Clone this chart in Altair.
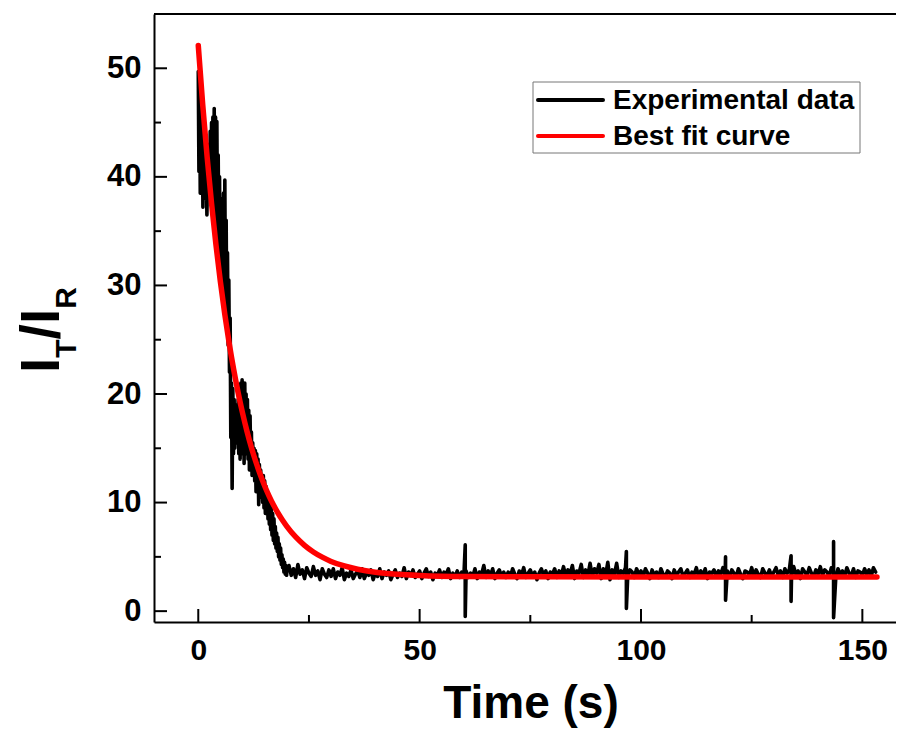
import altair as alt
import pandas as pd

# ---------------- data ----------------
# experimental data, fast-decay part (t = 0 ... 19.95 s, every 0.15 s)
early_y = [49.7, 40.5, 48.0, 38.5, 46.0, 39.0, 44.5, 37.2, 43.0, 38.5,
           43.5, 38.0, 42.5, 36.5, 41.0, 39.0, 43.0, 38.5, 44.2, 39.0,
           45.0, 37.5, 45.5, 38.0, 46.3, 36.0, 45.5, 35.0, 45.1, 34.0,
           42.0, 33.0, 40.0, 31.5, 38.0, 30.0, 36.5, 29.0, 38.5, 28.0,
           39.7, 27.0, 36.0, 26.0, 33.0, 24.5, 30.5, 22.0, 27.0, 16.0,
           21.0, 11.3, 20.5, 14.5, 19.5, 15.0, 18.5, 16.0, 19.0, 15.5,
           19.5, 14.5, 20.0, 14.0, 21.0, 15.0, 21.3, 14.5, 20.5, 13.6,
           21.0, 15.5, 20.0, 14.5, 19.5, 14.0, 18.5, 13.0, 18.0, 13.5,
           16.5, 12.5, 15.5, 13.0, 15.0, 12.0, 14.8, 11.0, 14.5, 11.5,
           14.0, 9.8, 13.5, 11.0, 13.0, 10.5, 12.5, 10.0, 12.5, 9.5,
           12.0, 9.0, 11.5, 9.0, 11.0, 8.5, 10.5, 8.0, 10.0, 7.5,
           9.5, 7.0, 9.0, 6.5, 8.5, 6.2, 7.8, 5.8, 7.2, 5.5,
           6.8, 5.0, 6.2, 4.7, 5.8, 4.3, 5.2, 4.0, 4.8, 3.6,
           4.5, 3.4, 4.2, 3.3]

# experimental data, baseline part (t = 20 ... 153 s, every 0.5 s)
base_y = [3.6, 4.2, 3.3, 3.9, 3.1, 4.3, 3.4, 3.8, 3.0, 4.0, 3.5, 3.2, 4.1, 3.3, 3.7, 2.9, 3.9, 3.4, 3.1, 3.8,
          3.2, 3.9, 3.0, 3.6, 3.3, 4.0, 2.9, 3.5, 3.2, 3.8, 3.0, 3.4, 3.7, 3.1, 3.9, 3.0, 3.5, 3.3, 3.8, 2.9,
          3.5, 3.2, 3.9, 3.0, 3.6, 3.3, 3.7, 2.9, 3.4, 3.8, 3.1, 3.5, 3.2, 4.0, 3.0, 3.6, 3.3, 3.8, 3.1, 3.4,
          3.7, 3.0, 3.5, 3.9, 3.2, 3.6, 2.9, 3.5, 3.3, 3.8, 3.1, 3.6, 3.4, 3.9, 3.0, 3.5, 3.2, 3.7, 3.1, 3.6,
          3.3, 3.7, 3.1, 3.5, 3.2, 3.9, 3.0, 3.6, 3.4, 4.2, 3.1, 3.7, 3.3, 3.9, 3.0, 3.5, 3.8, 3.2, 3.6, 3.1,
          3.6, 3.2, 3.9, 3.4, 3.0, 3.7, 3.3, 4.0, 3.1, 3.5, 3.8, 3.2, 3.6, 2.9, 3.5, 3.9, 3.3, 3.7, 3.0, 3.6,
          3.4, 3.9, 3.1, 3.7, 3.3, 4.1, 3.2, 3.8, 3.4, 4.2, 3.0, 3.7, 3.5, 4.3, 3.1, 3.8, 3.3, 4.4, 3.2, 3.9,
          3.5, 4.3, 3.0, 3.9, 3.3, 4.5, 2.9, 3.8, 3.4, 4.4, 3.1, 3.7, 3.5, 4.0, 3.2, 3.8, 3.6, 3.1, 3.9, 3.4,
          3.7, 3.2, 3.9, 3.5, 3.0, 3.8, 3.3, 3.6, 3.1, 3.9, 3.4, 3.2, 3.7, 3.5, 3.0, 3.8, 3.3, 3.6, 3.9, 3.2,
          3.5, 3.8, 3.1, 3.6, 3.4, 4.0, 3.2, 3.7, 3.3, 3.9, 3.0, 3.6, 3.5, 3.8, 3.2, 3.7, 3.4, 4.0, 3.3, 3.7,
          3.1, 3.8, 3.5, 3.2, 3.9, 3.4, 3.0, 3.7, 3.6, 3.3, 4.0, 3.2, 3.8, 3.4, 3.1, 3.9, 3.5, 3.3, 3.8, 3.2,
          3.6, 4.0, 3.3, 3.7, 3.1, 3.9, 3.5, 3.8, 3.2, 4.1, 3.4, 3.7, 3.0, 3.9, 3.6, 3.3, 4.0, 3.5, 3.2, 3.8,
          3.4, 4.1, 3.3, 3.8, 3.6, 3.2, 4.0, 3.5, 3.1, 3.9, 3.4, 3.7, 3.2, 4.0, 3.5, 3.3, 3.9, 3.1, 3.7, 3.6,
          3.3, 3.9, 3.4, 3.8, 3.2, 4.0, 3.6]

# isolated spikes in the baseline
spike_t = [60.3, 96.7, 119.1, 133.9, 143.5]
spike_hi = [6.1, 5.5, 5.0, 5.1, 6.4]
spike_lo = [-0.5, 0.25, 1.0, 0.9, -0.6]

# best fit curve
fit_t = [0, 1, 2, 3, 4, 5, 6, 7, 8, 9, 10, 11, 12, 13, 14, 15, 16, 17, 18, 19, 20,
         22, 24, 26, 28, 30, 33, 36, 40, 45, 50, 60, 75, 100, 125, 153.3]
fit_y = [52.10, 46.67, 41.84, 37.54, 33.72, 30.33, 27.32, 24.63, 22.25, 20.13, 18.25,
         16.57, 15.08, 13.76, 12.58, 11.53, 10.60, 9.77, 9.04, 8.39, 7.81,
         6.83, 6.06, 5.45, 4.97, 4.58, 4.16, 3.86, 3.59, 3.40, 3.29,
         3.19, 3.16, 3.15, 3.15, 3.15]

legend_labels = ["Experimental data", "Best fit curve"]
legend_colors = ["#000000", "#ff0000"]

x_major = [0, 50, 100, 150]
x_minor = [25, 75, 125]
y_major = [0, 10, 20, 30, 40, 50]
y_minor = [5, 15, 25, 35, 45]

# ---------------- tables ----------------
early_t = [round(0.15 * i, 2) for i in range(len(early_y))]
base_t = [round(20 + 0.5 * i, 1) for i in range(len(base_y))]
rows = [(t, 0, y) for t, y in zip(early_t, early_y)]
rows += [(t, 0, y) for t, y in zip(base_t, base_y)]
for t, h, l in zip(spike_t, spike_hi, spike_lo):
    rows.append((t, 1, h))
    rows.append((t, 2, l))
exp_df = pd.DataFrame(rows, columns=["t", "k", "y"]).sort_values(["t", "k"]).reset_index(drop=True)
exp_df["o"] = range(len(exp_df))
fit_df = pd.DataFrame({"t": fit_t, "y": fit_y})

FONT = "Liberation Sans"
W, H = 742, 608
xs = alt.Scale(domain=[-10, 157.6], nice=False, zero=False)
ys = alt.Scale(domain=[-1, 55], nice=False, zero=False)

x_axis = alt.Axis(values=x_major, ticks=False, labelPadding=13, labelFontSize=30,
                  labelFont=FONT, labelFontWeight="bold", labelColor="black",
                  domainColor="black", domainWidth=2, grid=False, title=None)
y_axis = alt.Axis(values=y_major, ticks=False, labelPadding=13, labelFontSize=31,
                  labelFont=FONT, labelFontWeight="bold", labelColor="black",
                  domainColor="black", domainWidth=2, grid=False, title=None)

exp_line = alt.Chart(exp_df).mark_line(color="black", strokeWidth=3.6,
                                       strokeJoin="round", strokeCap="round").encode(
    x=alt.X("t:Q", scale=xs, axis=x_axis),
    y=alt.Y("y:Q", scale=ys, axis=y_axis),
    order=alt.Order("o:Q"),
)
fit_line = alt.Chart(fit_df).mark_line(color="#ff0000", strokeWidth=5.5,
                                       strokeCap="round", interpolate="monotone").encode(
    x=alt.X("t:Q", scale=xs), y=alt.Y("y:Q", scale=ys))

# inward ticks
ytick_major = alt.Chart(pd.DataFrame({"v": y_major})).mark_rule(color="black", strokeWidth=2).encode(
    y=alt.Y("v:Q", scale=ys), x=alt.value(0), x2=alt.value(13))
ytick_minor = alt.Chart(pd.DataFrame({"v": y_minor})).mark_rule(color="black", strokeWidth=2).encode(
    y=alt.Y("v:Q", scale=ys), x=alt.value(0), x2=alt.value(7))
xtick_major = alt.Chart(pd.DataFrame({"v": x_major})).mark_rule(color="black", strokeWidth=2).encode(
    x=alt.X("v:Q", scale=xs), y=alt.value(H), y2=alt.value(H - 13))
xtick_minor = alt.Chart(pd.DataFrame({"v": x_minor})).mark_rule(color="black", strokeWidth=2).encode(
    x=alt.X("v:Q", scale=xs), y=alt.value(H), y2=alt.value(H - 7))

top_frame = alt.Chart().mark_rule(color="black", strokeWidth=2).encode(
    x=alt.value(0), x2=alt.value(W), y=alt.value(0))

# legend
leg_box = alt.Chart().mark_rect(fill="white", stroke="#777777", strokeWidth=1).encode(
    x=alt.value(379), x2=alt.value(706), y=alt.value(68), y2=alt.value(139))
leg_layers = [leg_box]
for i, (lab, col) in enumerate(zip(legend_labels, legend_colors)):
    yy = 86 + 36 * i
    leg_layers.append(alt.Chart().mark_rule(color=col, strokeWidth=4, strokeCap="round").encode(
        x=alt.value(384), x2=alt.value(449), y=alt.value(yy)))
    leg_layers.append(alt.Chart().mark_text(align="left", baseline="middle", font=FONT,
                                            fontWeight="bold", fontSize=28, color="black").encode(
        x=alt.value(459), y=alt.value(yy + 1), text=alt.value(lab)))

# axis titles
x_title = alt.Chart().mark_text(align="center", baseline="alphabetic", font=FONT,
                                fontWeight="bold", fontSize=46, color="black").encode(
    x=alt.value(377), y=alt.value(704), text=alt.value("Time (s)"))

big, small = 55, 30
def ytxt(s, size, xpix, ypix):
    return alt.Chart().mark_text(align="left", baseline="alphabetic", angle=270, font=FONT,
                                 fontWeight="bold", fontSize=size, color="black").encode(
        x=alt.value(xpix), y=alt.value(ypix), text=alt.value(s))

y0 = 359
y_title = [
    ytxt("I", big, -95, y0),
    ytxt("T", small, -78, y0 - 0.278 * big),
    ytxt("/", big, -95, y0 - 0.278 * big - 0.611 * small),
    ytxt("I", big, -95, y0 - 2 * 0.278 * big - 0.611 * small),
    ytxt("R", small, -78, y0 - 3 * 0.278 * big - 0.611 * small),
]

chart = alt.layer(
    exp_line, fit_line, ytick_major, ytick_minor, xtick_major, xtick_minor, top_frame,
    *leg_layers, x_title, *y_title
).properties(
    width=W, height=H,
    autosize=alt.AutoSizeParams(type="none"),
    padding={"left": 146, "top": 6, "right": 0, "bottom": 107},
    background="white",
).configure_view(stroke=None)

chart.save("out.html", embed_options={"renderer": "svg", "actions": False})
